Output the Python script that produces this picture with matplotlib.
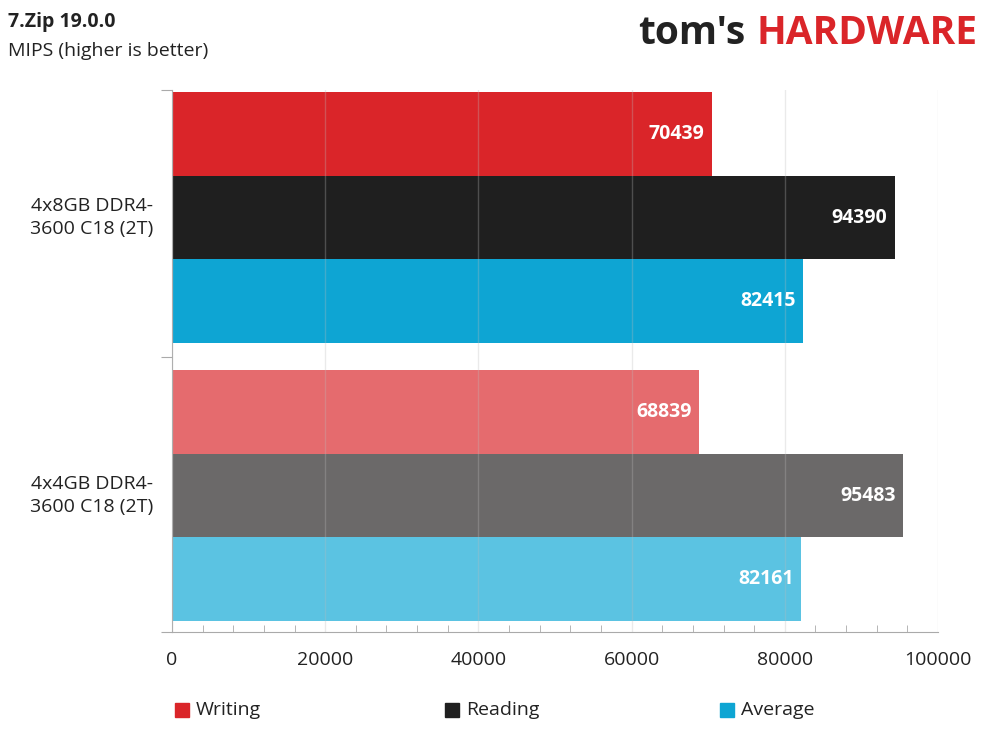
import matplotlib
matplotlib.use("Agg")
import matplotlib.pyplot as plt
from matplotlib.ticker import MultipleLocator

plt.rcParams["font.family"] = ["Open Sans", "DejaVu Sans"]

configs = ["4x8GB DDR4-\n3600 C18 (2T)", "4x4GB DDR4-\n3600 C18 (2T)"]
series = ["Writing", "Reading", "Average"]
values = [[70439, 94390, 82415], [68839, 95483, 82161]]
colors = [["#DA2529", "#1F1F1F", "#0EA5D3"], ["#E56B6E", "#6B6969", "#5BC3E2"]]

fig = plt.figure(figsize=(9.89, 7.42), dpi=100)
ax = fig.add_axes([172 / 989, 1 - 632 / 742, (938 - 172) / 989, (632 - 90) / 742])

gap = 0.32
for g, vals in enumerate(values):
    base = g * (3 + gap)
    for s, v in enumerate(vals):
        yc = base + s + 0.5
        ax.barh(yc, v, height=1.0, color=colors[g][s], zorder=2)
        ax.text(v - 1000, yc, f"{v}", ha="right", va="center", color="white",
                fontsize=14, fontweight="bold", zorder=4)
    ax.text(-10500, base + 1.5, configs[g], ha="center", va="center", fontsize=14,
            color="#222222", linespacing=1.4)

ax.set_xlim(0, 100000)
ax.set_ylim(3 * 2 + gap + 0.13, -0.024)
ax.xaxis.set_major_locator(MultipleLocator(20000))
ax.xaxis.set_minor_locator(MultipleLocator(4000))
ax.grid(axis="x", color="#BBBBBB", lw=1, alpha=0.3, zorder=3)
ax.set_axisbelow(False)
ax.tick_params(axis="x", which="major", length=0, labelsize=14, pad=14, colors="#222222")
ax.tick_params(axis="x", which="minor", length=5, color="#AAAAAA", direction="in")
ax.set_yticks([0 - 0.024, 3 + gap / 2, 6.45])
ax.set_yticklabels([])
ax.tick_params(axis="y", length=8, color="#AAAAAA", direction="out")
for side in ["top", "right"]:
    ax.spines[side].set_visible(False)
for side in ["left", "bottom"]:
    ax.spines[side].set_color("#AAAAAA")

fig.text(8 / 989, 1 - 22 / 742, "7.Zip 19.0.0", fontsize=14, fontweight="bold",
         va="center", color="#222222")
fig.text(8 / 989, 1 - 51 / 742, "MIPS (higher is better)", fontsize=14,
         va="center", color="#222222")

fig.text(745 / 989, 1 - 33 / 742, "tom's", fontsize=28, fontweight="bold",
         va="center", ha="right", color="#222222")
fig.text(977 / 989, 1 - 33 / 742, "HARDWARE", fontsize=28, fontweight="bold",
         va="center", ha="right", color="#DA2529")

for x, name, c in zip([175, 445, 720], series, colors[0]):
    fig.patches.append(plt.Rectangle((x / 989, 1 - 717 / 742), 14 / 989, 14 / 742,
                                     transform=fig.transFigure, color=c))
    fig.text((x + 21) / 989, 1 - 710 / 742, name, fontsize=14, va="center",
             color="#222222")

fig.savefig("out.png", dpi=100)
